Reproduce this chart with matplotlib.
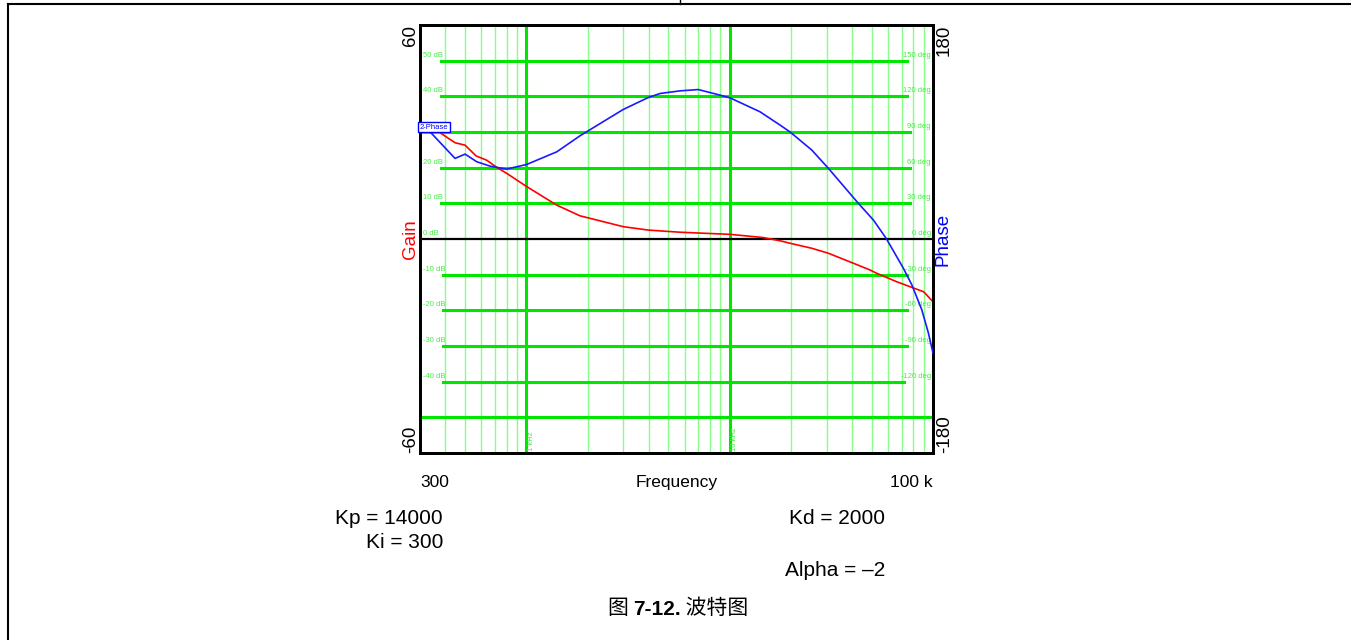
import matplotlib
matplotlib.use("Agg")
import matplotlib.pyplot as plt
import matplotlib.transforms as mtransforms
from matplotlib.lines import Line2D
from matplotlib.ticker import NullLocator

# --- data ---
gain_freq = [300, 376, 446, 500, 566, 638, 715, 801, 1004, 1411, 1836, 3000,
             3980, 5700, 10050, 14650, 17700, 19830, 25350, 30600, 40600,
             49050, 52800, 66400, 90000, 100000]
gain_db = [29.8, 29.8, 27.0, 26.3, 23.3, 22.1, 20.1, 18.4, 14.7, 9.5, 6.5, 3.45,
           2.5, 1.9, 1.3, 0.4, -0.5, -1.2, -2.6, -4.0, -6.8,
           -8.7, -9.6, -12.0, -14.8, -17.6]

phase_freq = [300, 342, 446, 500, 570, 663, 801, 1004, 1411, 1836, 3000, 3980,
              4550, 5700, 7010, 8970, 10050, 14100, 17700, 19830, 25350, 30600,
              42950, 50900, 58800, 71500, 78700, 88100, 94900, 100000]
phase_deg = [95, 88.8, 67.8, 71.4, 65, 61.3, 58.8, 62.7, 73.3, 86.8, 109, 119,
             122.4, 124.6, 125.7, 121, 118.7, 107, 95.8, 90, 74.8, 59.4,
             30, 16, 0.6, -24.6, -38.6, -59.6, -79, -96]

grid_db = [50, 40, 30, 20, 10, 0, -10, -20, -30, -40]
grid_deg = [150, 120, 90, 60, 30, 0, -30, -60, -90, -120]
decades = [1000, 10000]
minor_freqs = [m * d for d in (100, 1000, 10000) for m in range(2, 10) if m * d > 300]

GREEN = "#00e600"
LIGHT = "#88ff88"
LABEL_GREEN = "#44ee44"

plt.rcParams["font.family"] = ["Liberation Sans", "DejaVu Sans"]

fig = plt.figure(figsize=(13.51, 6.4), dpi=100)
ax = fig.add_axes([420 / 1351, 1 - 453 / 640, 513 / 1351, 428 / 640])
ax.set_xscale("log")
ax.set_xlim(300, 100000)
ax.set_ylim(-60, 60)

# grid
for f in minor_freqs:
    if f not in decades:
        ax.axvline(f, color=LIGHT, lw=1.0, zorder=1)
for f in decades:
    ax.axvline(f, color=GREEN, lw=2.2, zorder=1.5)

lab_tr = mtransforms.blended_transform_factory(ax.transAxes, ax.transData)
for db, deg in zip(grid_db, grid_deg):
    right = f"{deg} deg"
    if db != 0:
        xmin = 0.041 if db > 0 else 0.045
        xmax = 0.991 - 0.006 * len(right)
        ax.axhline(db, xmin=xmin, xmax=xmax, color=GREEN, lw=2.2, zorder=1.6)
    if db != 30:  # the "30 dB" tag sits under the trace label box
        ax.text(0.006, db + 0.6, f"{db} dB", transform=lab_tr, fontsize=5.5,
                color=LABEL_GREEN, ha="left", va="bottom", zorder=2)
    ax.text(0.996, db + 0.6, right, transform=lab_tr, fontsize=5.5,
            color=LABEL_GREEN, ha="right", va="bottom", zorder=2)
ax.axhline(-50, color=GREEN, lw=2.2, zorder=1.6)
ax.axhline(0, color="black", lw=1.6, zorder=1.8)

for f, name in zip(decades, ["1 kHz", "10 kHz"]):
    ax.text(f * 1.02, -59.3, name, rotation=90, fontsize=5.5, color=LABEL_GREEN,
            ha="left", va="bottom", zorder=2)

ax.plot(gain_freq, gain_db, color="#ff0000", lw=1.2, zorder=3)

# axes dressing
for s in ax.spines.values():
    s.set_linewidth(2)
ax.xaxis.set_minor_locator(NullLocator())
ax.set_xticks([300, 100000])
ax.set_xticklabels(["300", "100 k"], fontsize=12.5)
for lbl, ha in zip(ax.get_xticklabels(), ["left", "right"]):
    lbl.set_ha(ha)
ax.tick_params(axis="x", length=0, pad=16)
ax.set_xlabel("Frequency", fontsize=12.5)
ax.xaxis.set_label_coords(0.5, -0.052)

ax.set_yticks([-60, 60])
ax.set_yticklabels(["-60", "60"], fontsize=13.5, rotation=90)
for lbl, va in zip(ax.get_yticklabels(), ["bottom", "top"]):
    lbl.set_va(va)
ax.tick_params(axis="y", length=0, pad=0.5)
ax.set_ylabel("Gain", color="red", fontsize=13.5)
ax.yaxis.set_label_coords(-0.001, 0.5)

ph = ax.twinx()
ph.set_ylim(-180, 180)
ph.plot(phase_freq, phase_deg, color="#1a1aff", lw=1.2, zorder=3)
ph.set_yticks([-180, 180])
ph.set_yticklabels(["-180", "180"], fontsize=13.5, rotation=90)
for lbl, va in zip(ph.get_yticklabels(), ["bottom", "top"]):
    lbl.set_va(va)
ph.tick_params(axis="y", length=0, pad=2)
ph.set_ylabel("Phase", color="blue", fontsize=13.5, rotation=90)
ph.yaxis.set_label_coords(1.003, 0.5)
for s in ph.spines.values():
    s.set_linewidth(2)
ph.text(300, phase_deg[0] - 1, "2-Phase", fontsize=5.5, color="blue", ha="left",
        va="center", zorder=4,
        bbox=dict(boxstyle="square,pad=0.2", fc="white", ec="blue", lw=1))

# page text below the chart
fig.text(443 / 1351, 1 - 518 / 640, "Kp = 14000", fontsize=15, ha="right", va="center")
fig.text(443 / 1351, 1 - 542 / 640, "Ki = 300", fontsize=15, ha="right", va="center")
fig.text(885 / 1351, 1 - 518 / 640, "Kd = 2000", fontsize=15, ha="right", va="center")
fig.text(885 / 1351, 1 - 570 / 640, "Alpha = \u20132", fontsize=15, ha="right", va="center")

ov = fig.add_axes([0, 0, 1, 1], zorder=-1)
ov.axis("off")
cjk = ["Noto Sans CJK SC", "DejaVu Sans"]
t1 = ov.text(608 / 1351, 1 - 608 / 640, "图 ", fontsize=15, family=cjk,
             ha="left", va="center")
t2 = ov.annotate("7-12.", xy=(1, 0), xycoords=t1, fontsize=15, weight="bold",
                 ha="left", va="bottom")
ov.annotate(" 波特图", xy=(1, 0), xycoords=t2, fontsize=15, family=cjk,
            ha="left", va="bottom")

# page frame lines
fig.add_artist(Line2D([8 / 1351, 1], [1 - 4 / 640] * 2, transform=fig.transFigure,
                      color="black", lw=1.5))
fig.add_artist(Line2D([8 / 1351] * 2, [0, 1 - 4 / 640], transform=fig.transFigure,
                      color="black", lw=1.5))
fig.add_artist(Line2D([680 / 1351] * 2, [1 - 4 / 640, 1], transform=fig.transFigure,
                      color="black", lw=1.0))

fig.savefig("out.png", dpi=100)
